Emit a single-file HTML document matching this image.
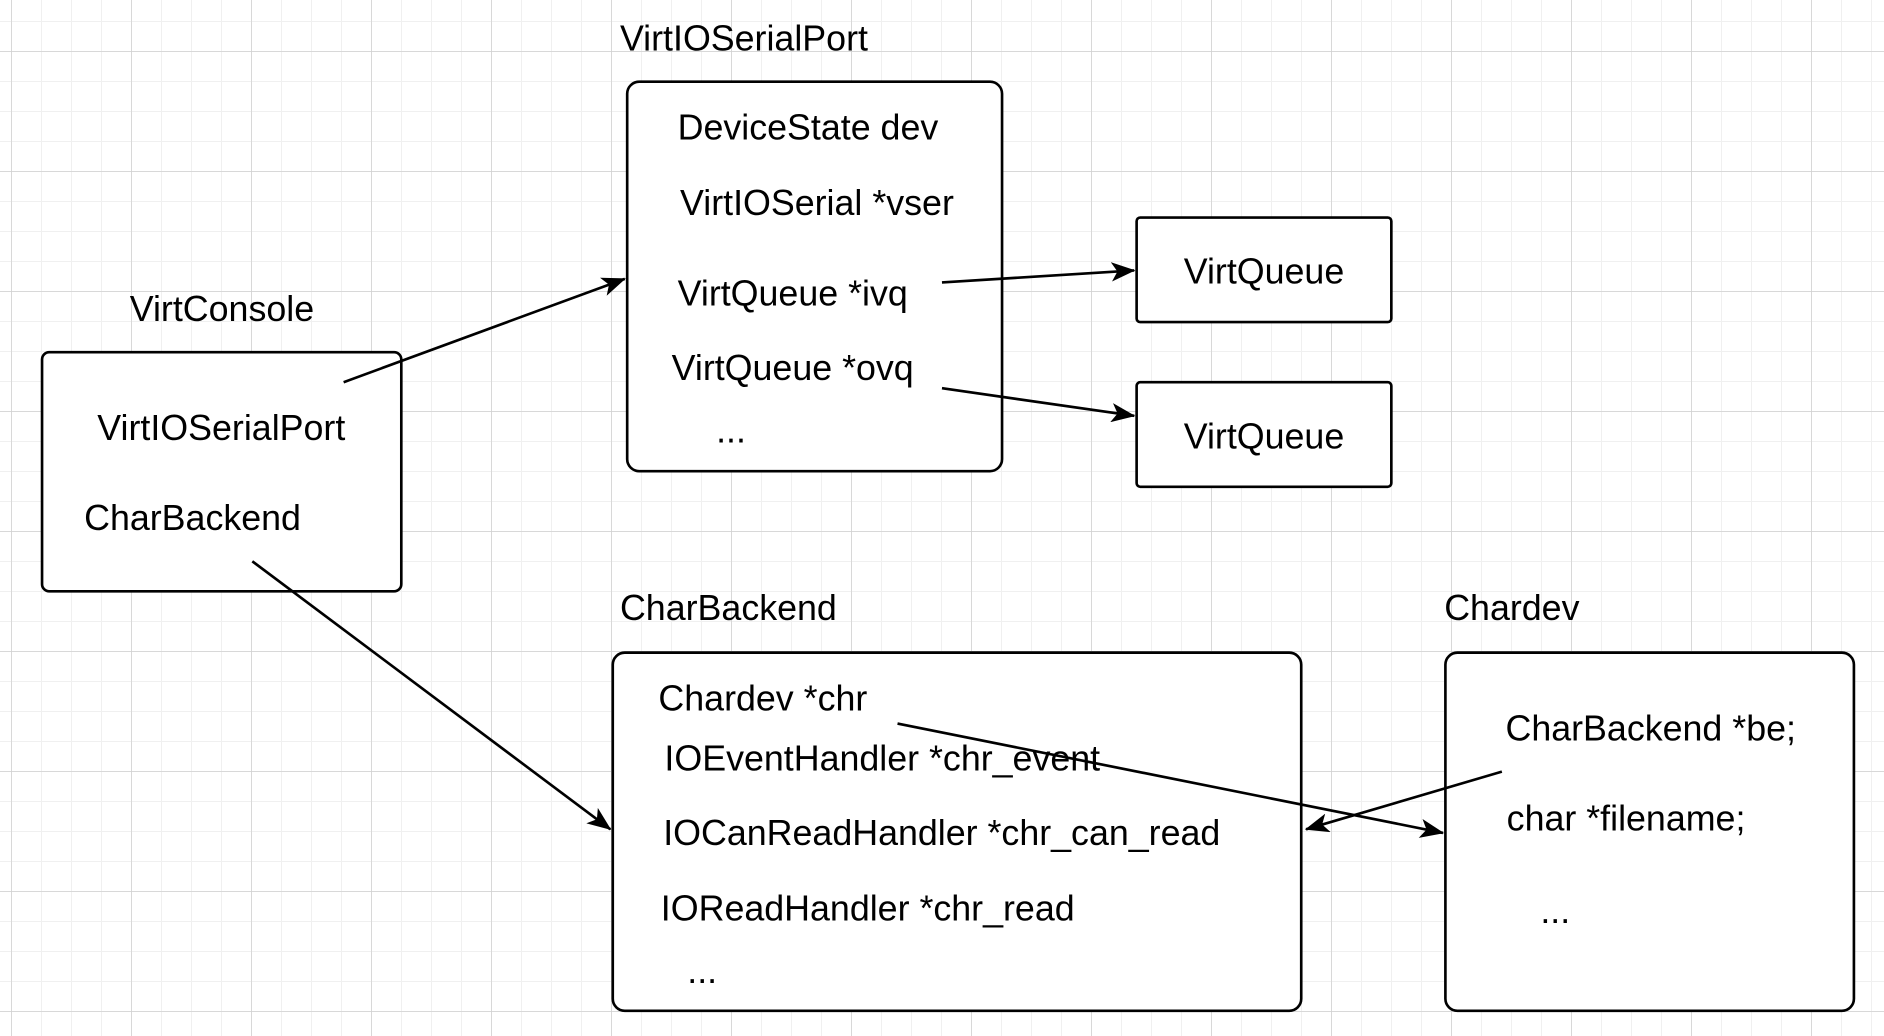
<!DOCTYPE html>
<html><head><meta charset="utf-8"><style>
html,body{margin:0;padding:0;background:#fff;width:1884px;height:1036px;overflow:hidden}
svg{display:block}
text{font-family:"Liberation Sans",Arial,sans-serif;font-size:29.8px;fill:#000}
</style></head><body>
<svg width="1884" height="1036" viewBox="0 0 1884 1036" xmlns="http://www.w3.org/2000/svg">
<defs>
<pattern id="minor" x="11" y="21" width="30" height="30" patternUnits="userSpaceOnUse">
<path d="M0 0V30M0 0H30" stroke="#f0f0f0" stroke-width="2" fill="none"/>
</pattern>
<pattern id="major" x="11" y="51" width="120" height="120" patternUnits="userSpaceOnUse">
<path d="M0 0V120M0 0H120" stroke="#d0d0d0" stroke-width="1.5" fill="none"/>
</pattern>
<marker id="ar" markerWidth="20" markerHeight="16" refX="19" refY="8" orient="auto" markerUnits="userSpaceOnUse">
<path d="M0 0L20 8L0 16L5 8Z" fill="#000"/>
</marker>
</defs>
<rect width="1884" height="1036" fill="url(#minor)"/>
<rect width="1884" height="1036" fill="url(#major)"/>
<g transform="scale(1.2015,1.2019)">
<g fill="#fff" stroke="#000" stroke-width="2.2">
<rect x="35" y="293" width="299" height="199" rx="6"/>
<rect x="522" y="68" width="312" height="324" rx="10"/>
<rect x="946" y="181" width="212" height="87" rx="3"/>
<rect x="946" y="318" width="212" height="87" rx="3"/>
<rect x="510" y="543" width="573" height="298" rx="10"/>
<rect x="1203" y="543" width="340" height="298" rx="10"/>
</g>
<text x="516" y="42">VirtIOSerialPort</text>
<text x="108" y="267">VirtConsole</text>
<text x="516" y="516">CharBackend</text>
<text x="1202" y="516">Chardev</text>
<text x="564" y="116">DeviceState dev</text>
<text x="566" y="179">VirtIOSerial *vser</text>
<text x="564" y="254">VirtQueue *ivq</text>
<text x="559" y="316">VirtQueue *ovq</text>
<text x="596" y="368">...</text>
<text x="1052" y="236" text-anchor="middle">VirtQueue</text>
<text x="1052" y="373" text-anchor="middle">VirtQueue</text>
<text x="81" y="366">VirtIOSerialPort</text>
<text x="70" y="441">CharBackend</text>
<text x="548" y="591">Chardev *chr</text>
<text x="553" y="641">IOEventHandler *chr_event</text>
<text x="552" y="703">IOCanReadHandler *chr_can_read</text>
<text x="550" y="766">IOReadHandler *chr_read</text>
<text x="572" y="818">...</text>
<text x="1253" y="616">CharBackend *be;</text>
<text x="1254" y="691">char *filename;</text>
<text x="1282" y="768">...</text>
<g stroke="#000" stroke-width="2.2" fill="none" marker-end="url(#ar)">
<line x1="286" y1="318" x2="520" y2="232"/>
<line x1="784" y1="235" x2="944" y2="225"/>
<line x1="784" y1="323" x2="944" y2="346"/>
<line x1="210" y1="467" x2="508" y2="690"/>
<line x1="747" y1="602" x2="1201" y2="693"/>
<line x1="1250" y1="642" x2="1087" y2="690"/>
</g>
</g>
</svg>
</body></html>
